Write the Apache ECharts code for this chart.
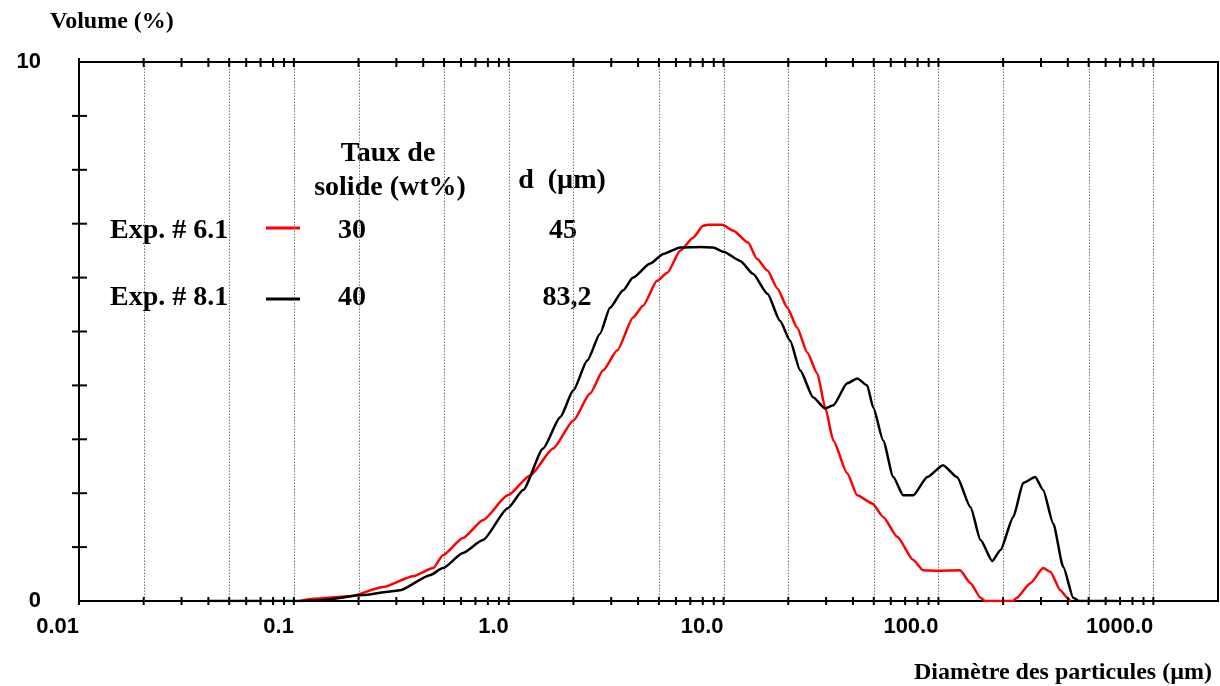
<!DOCTYPE html>
<html><head><meta charset="utf-8">
<script src="https://cdn.jsdelivr.net/npm/echarts@6/dist/echarts.min.js"></script>
<style>html,body{margin:0;padding:0;background:#fff}#c{width:1220px;height:686px}</style>
</head><body><div id="c"></div>
<script>
// Exp. # 6.1 (red)
const sizes61 = [0.107,0.123,0.183,0.26,0.359,0.445,0.494,0.612,0.758,0.99,1.258,1.61,2.0,2.39,2.75,3.2,3.79,4.22,4.9,5.47,6.28,7.21,8.03,8.47,9.87,11.1,13.0,14.3,16.0,17.8,19.8,22.0,24.5,27.3,29.7,32.4,37.6,41.9,49.2,55.3,64.3,76.3,85,98,126,141,157,165,223,230,268,307,332,369,398,410];
const vol61 = [0,0.04,0.09,0.26,0.46,0.61,0.85,1.17,1.5,1.96,2.33,2.83,3.35,3.85,4.28,4.65,5.26,5.48,5.94,6.09,6.5,6.74,6.96,6.98,6.98,6.87,6.65,6.35,6.13,5.8,5.44,5.07,4.61,4.22,3.59,2.98,2.37,1.96,1.81,1.56,1.19,0.76,0.57,0.56,0.57,0.33,0.06,0,0,0.05,0.33,0.61,0.54,0.2,0.06,0];
// Exp. # 8.1 (black)
const sizes81 = [0.0394,0.107,0.137,0.21,0.274,0.312,0.43,0.494,0.612,0.758,0.99,1.167,1.446,1.735,2.0,2.32,2.66,2.96,3.4,3.79,4.55,5.24,6.28,7.78,8.94,10.0,11.95,13.7,16.0,18.3,20.4,22.7,26.1,29.7,32.4,37.6,41.9,46.6,49.7,55.3,61.6,68.6,76.3,88.7,105,122,141,157,178,194,223,248,282,307,342,381,424,450,680];
const vol81 = [0,0,0.02,0.11,0.17,0.2,0.48,0.61,0.89,1.13,1.72,2.06,2.83,3.41,3.91,4.46,4.96,5.44,5.76,6.0,6.26,6.44,6.56,6.57,6.56,6.48,6.31,6.07,5.7,5.2,4.83,4.28,3.78,3.57,3.63,4.04,4.13,4.0,3.59,2.98,2.3,1.96,1.96,2.3,2.52,2.3,1.74,1.13,0.74,0.94,1.56,2.19,2.3,2.06,1.44,0.63,0.06,0,0];

const xMin = 0.01, xMax = 2000, yMin = 0, yMax = 10;
const xTickValues = [0.01,0.1,1,10,100,1000];
const xTickLabels = ['0.01','0.1','1.0','10.0','100.0','1000.0'];
const yLabelValues = [0,10];
const yLabelTexts = ['0','10'];
const yMinorTicks = [1,2,3,4,5,6,7,8,9];
const decades = [0.01,0.1,1,10,100];
const gridMultipliers = [2,5,10];
const tickMultipliers = [1,2,3,4,5,6,7,8,9];

const legendNames = ['Exp. # 6.1','Exp. # 8.1'];
const legendSolid = ['30','40'];
const legendD = ['45','83,2'];
const seriesColors = ['#ff0000','#000000'];

const gridValues = [];
decades.forEach(d => gridMultipliers.forEach(m => gridValues.push(+(d*m).toPrecision(6))));
const tickValues = [];
decades.forEach(d => tickMultipliers.forEach(m => tickValues.push(+(d*m).toPrecision(6))));
tickValues.push(1000);

const serif = "Liberation Serif";
const sans = "Liberation Sans";

const chart = echarts.init(document.getElementById('c'));

function zip(xs, ys){ return xs.map((x,i)=>[x, ys[i]]); }
function txt(x, y, text, size, align, extra){
  return Object.assign({type: 'text', x: x, y: y, style: {text: text, fontFamily: serif, fontWeight: 'bold', fontSize: size, fill: '#000', align: align, verticalAlign: 'middle'}}, extra || {});
}

const option = {
  backgroundColor: '#ffffff',
  animation: false,
  grid: {left: 79, right: 2, top: 62, bottom: 85, show: true, borderColor: '#000', borderWidth: 2, backgroundColor: 'transparent'},
  xAxis: {
    type: 'log', logBase: 10, min: xMin, max: xMax,
    axisLine: {show: true, lineStyle: {color: '#000', width: 2}},
    axisTick: {show: false},
    splitLine: {show: false},
    minorTick: {show: false},
    axisLabel: {
      showMaxLabel: false,
      color: '#000', fontFamily: sans, fontWeight: 'bold', fontSize: 22,
      align: 'right', margin: 15,
      formatter: function(v){
        for (let i=0;i<xTickValues.length;i++){
          if (Math.abs(Math.log10(v) - Math.log10(xTickValues[i])) < 1e-6) return xTickLabels[i];
        }
        return '';
      }
    }
  },
  yAxis: {
    type: 'value', min: yMin, max: yMax, interval: 1,
    axisLine: {show: true, lineStyle: {color: '#000', width: 2}},
    axisTick: {show: false},
    splitLine: {show: false},
    axisLabel: {
      color: '#000', fontFamily: sans, fontWeight: 'bold', fontSize: 22,
      align: 'right', margin: 38, verticalAlign: 'middle', padding: [0,0,14,0],
      formatter: function(v){
        const i = yLabelValues.indexOf(v);
        return i >= 0 ? yLabelTexts[i] : '';
      }
    }
  },
  series: [
    {
      type: 'custom', name: 'grid', silent: true, z: 1, clip: false,
      data: gridValues.map(v => [v, 0]),
      renderItem: function(params, api){
        const b = api.coord([api.value(0), yMin]);
        const t = api.coord([api.value(0), yMax]);
        return {type: 'line', shape: {x1: Math.round(b[0])+0.5, y1: b[1], x2: Math.round(t[0])+0.5, y2: t[1]},
          style: {stroke: '#777', lineWidth: 1, lineDash: [1.5, 1.5]}};
      }
    },
    {
      type: 'custom', name: 'xticks', silent: true, z: 5, clip: false,
      data: tickValues.map(v => [v, 0]),
      renderItem: function(params, api){
        const b = api.coord([api.value(0), yMin]);
        const t = api.coord([api.value(0), yMax]);
        return {type: 'group', children: [
          {type: 'line', shape: {x1: b[0], y1: b[1]-4, x2: b[0], y2: b[1]+4}, style: {stroke: '#000', lineWidth: 2}},
          {type: 'line', shape: {x1: t[0], y1: t[1]-4, x2: t[0], y2: t[1]+5}, style: {stroke: '#000', lineWidth: 2}}
        ]};
      }
    },
    {
      type: 'custom', name: 'yticks', silent: true, z: 5, clip: false,
      data: yMinorTicks.map(v => [xMin, v]),
      renderItem: function(params, api){
        const p = api.coord([xMin, api.value(1)]);
        return {type: 'line', shape: {x1: p[0]-7, y1: p[1], x2: p[0]+8, y2: p[1]}, style: {stroke: '#000', lineWidth: 2}};
      }
    },
    {
      type: 'line', name: legendNames[0], data: zip(sizes61, vol61),
      showSymbol: false, smooth: 0.2, smoothMonotone: 'x', z: 3,
      lineStyle: {color: seriesColors[0], width: 2.5}, itemStyle: {color: seriesColors[0]}
    },
    {
      type: 'line', name: legendNames[1], data: zip(sizes81, vol81),
      showSymbol: false, smooth: 0.2, smoothMonotone: 'x', z: 4,
      lineStyle: {color: seriesColors[1], width: 2.5}, itemStyle: {color: seriesColors[1]}
    }
  ],
  graphic: [
    txt(50, 22, 'Volume (%)', 24, 'left'),
    txt(1212, 673, 'Diamètre des particules (µm)', 24, 'right'),
    txt(388, 154, 'Taux de', 28, 'center'),
    txt(390, 188, 'solide (wt%)', 28, 'center'),
    txt(562, 181, 'd  (µm)', 28, 'center'),
    txt(110, 231, legendNames[0], 28, 'left'),
    txt(110, 298, legendNames[1], 28, 'left'),
    {type: 'line', shape: {x1: 266, y1: 228, x2: 300, y2: 228}, style: {stroke: seriesColors[0], lineWidth: 3}},
    {type: 'line', shape: {x1: 266, y1: 299, x2: 300, y2: 299}, style: {stroke: seriesColors[1], lineWidth: 3}},
    txt(352, 231, legendSolid[0], 28, 'center'),
    txt(352, 298, legendSolid[1], 28, 'center'),
    txt(563, 231, legendD[0], 28, 'center'),
    txt(567, 298, legendD[1], 28, 'center')
  ]
};
chart.setOption(option);
</script>
</body></html>
